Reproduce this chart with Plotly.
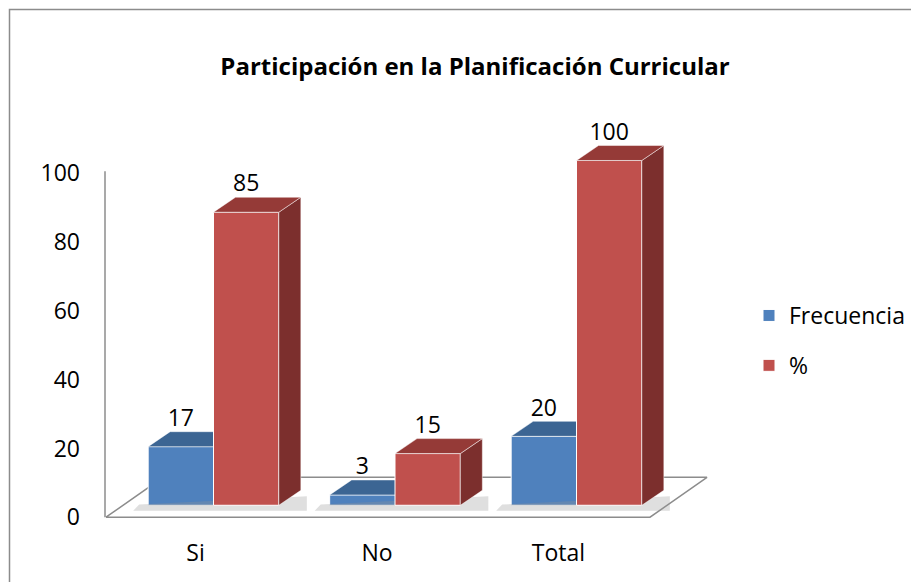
import plotly.graph_objects as go

# ---------------- data ----------------
categories = ["Si", "No", "Total"]
frecuencia = [17, 3, 20]
porcentaje = [85, 15, 100]
y_ticks = [0, 20, 40, 60, 80, 100]
title_text = "Participación en la Planificación Curricular"
series_names = ["Frecuencia", "%"]

# ---------------- styling / geometry ----------------
OFF = 8                         # default page body margin
W, H = 919 - OFF, 584 - OFF
FONT = "'Open Sans', Lato, sans-serif"
BLUE, BLUE_TOP = "#4F81BD", "#3C6593"
RED, RED_TOP, RED_SIDE = "#C0504D", "#953A37", "#7C2F2D"
GREY = "#8C8C8C"

def px(p):
    return (p - OFF) / W

def py(p):
    return 1 - (p - OFF) / H

cat_px = 181.5                 # pixels per category
cat0_px = 213.5                # pixel centre of first category

def xdat(p):
    return (p - cat0_px) / cat_px

DY = 2                         # small vertical nudge of the plot area
x_dom = [px(90), px(730)]
x_rng = [xdat(90), xdat(730)]
y_dom = [py(530 + DY), py(110 + DY)]
tick_scale = 3.45              # px per unit, tick axis (0 at 517)
bar_scale = 3.46               # px per unit, bar axis (0 at 505)
y_rng = [-(530 - 517) / tick_scale, -(530 - 517) / tick_scale + 420 / tick_scale]
y2_rng = [-(530 - 505) / bar_scale, -(530 - 505) / bar_scale + 420 / bar_scale]

bargap = 0.28
bw = (1 - bargap) / 2          # width of one bar in category units
ddx = 22 / cat_px              # depth offset (x, category units)
ddy = 15 / bar_scale           # depth offset (y, value units)

xs = list(range(len(categories)))

fig = go.Figure()

# floor (on tick axis)
fl_x0, fl_x1 = xdat(106), xdat(650)
fdx, fdy = 57 / cat_px, 40 / tick_scale
fig.add_trace(go.Scatter(
    x=[fl_x0, fl_x1, fl_x1 + fdx, fl_x0 + fdx, fl_x0],
    y=[0, 0, fdy, fdy, 0],
    mode="lines", fill="toself", fillcolor="white",
    line=dict(color=GREY, width=1.5), showlegend=False, hoverinfo="skip",
    xaxis="x", yaxis="y",
))

def top_faces(vals, offset):
    tx, ty = [], []
    for i, v in zip(xs, vals):
        x0 = i + offset
        x1 = x0 + bw
        tx += [x0, x1, x1 + ddx, x0 + ddx, x0, None]
        ty += [v, v, v + ddy, v + ddy, v, None]
    return tx, ty

def side_faces(vals, offset):
    tx, ty = [], []
    for i, v in zip(xs, vals):
        x1 = i + offset + bw
        tx += [x1, x1 + ddx, x1 + ddx, x1, x1, None]
        ty += [0, ddy, v + ddy, v, 0, None]
    return tx, ty

def shadows():
    sx, sy = [], []
    s = 6 / cat_px
    for i in xs:
        x0 = i - bw - 2.5 * s
        x1 = i + bw + ddx + s
        sx += [x0, x1, x1, x0 + s, x0, None]
        sy += [-1.6, -1.6, ddy * 0.6, 0.2, -1.6, None]
    return sx, sy

# soft shadow under the bar groups
shx, shy = shadows()
fig.add_trace(go.Scatter(
    x=shx, y=shy, mode="lines", fill="toself", fillcolor="rgba(150,150,150,0.3)",
    line=dict(width=0), showlegend=False, hoverinfo="skip",
    xaxis="x", yaxis="y2",
))

# blue series (y2)
fig.add_trace(go.Bar(
    x=xs, y=frecuencia, name=series_names[0], marker=dict(color=BLUE, line=dict(color="white", width=1)),
    offsetgroup="a", xaxis="x", yaxis="y2", legendgroup="a", hoverinfo="skip",
))
tx, ty = top_faces(frecuencia, -bw)
fig.add_trace(go.Scatter(
    x=tx, y=ty, mode="lines", fill="toself", fillcolor=BLUE_TOP,
    line=dict(color="rgba(255,255,255,0.6)", width=0.8), showlegend=False,
    hoverinfo="skip", xaxis="x", yaxis="y2",
))

# red series (y3, drawn above)
fig.add_trace(go.Bar(
    x=[i + bw / 2 for i in xs], y=porcentaje, width=bw, name=series_names[1],
    marker=dict(color=RED, line=dict(color="white", width=1)),
    xaxis="x", yaxis="y3", legendgroup="b", hoverinfo="skip",
))
sx, sy = side_faces(porcentaje, 0)
fig.add_trace(go.Scatter(
    x=sx, y=sy, mode="lines", fill="toself", fillcolor=RED_SIDE,
    line=dict(color="rgba(255,255,255,0.6)", width=0.8), showlegend=False,
    hoverinfo="skip", xaxis="x", yaxis="y3",
))
tx, ty = top_faces(porcentaje, 0)
fig.add_trace(go.Scatter(
    x=tx, y=ty, mode="lines", fill="toself", fillcolor=RED_TOP,
    line=dict(color="rgba(255,255,255,0.6)", width=0.8), showlegend=False,
    hoverinfo="skip", xaxis="x", yaxis="y3",
))

# value labels
fig.add_trace(go.Scatter(
    x=[i - bw / 2 for i in xs] + [i + bw / 2 for i in xs],
    y=[v + ddy for v in frecuencia] + [v + ddy for v in porcentaje],
    text=[str(v) for v in frecuencia] + [str(v) for v in porcentaje],
    mode="text", textposition="top center",
    textfont=dict(family=FONT, size=23, color="black"),
    showlegend=False, hoverinfo="skip", xaxis="x", yaxis="y3", cliponaxis=False,
))

fig.update_layout(
    width=W, height=H,
    margin=dict(l=0, r=0, t=0, b=0),
    paper_bgcolor="white", plot_bgcolor="rgba(0,0,0,0)",
    font=dict(family=FONT, size=23, color="black"),
    barmode="group", bargap=bargap, bargroupgap=0,
    title=dict(text="<b>" + title_text + "</b>", x=px(475), xanchor="center",
               y=py(67), yanchor="middle", font=dict(family=FONT, size=24, color="black")),
    xaxis=dict(domain=x_dom, range=x_rng, tickvals=xs, ticktext=categories,
               showgrid=False, zeroline=False, showline=False, ticks="",
               anchor="free", position=py(517 + DY), ticklabelstandoff=20,
               ticklabelshift=-18, tickfont=dict(size=23), fixedrange=True),
    yaxis=dict(domain=y_dom, range=y_rng, tickvals=y_ticks, showgrid=False,
               zeroline=False, showline=False, ticks="", anchor="free",
               position=px(105), ticklabelstandoff=25, tickfont=dict(size=23)),
    yaxis2=dict(range=y2_rng, overlaying="y", visible=False, anchor="x"),
    yaxis3=dict(range=y2_rng, overlaying="y", visible=False, anchor="x"),
    legend=dict(x=px(749), y=py(295), xanchor="left", yanchor="top",
                font=dict(size=23), traceorder="grouped", tracegroupgap=17,
                bgcolor="rgba(0,0,0,0)"),
    shapes=[
        dict(type="line", xref="paper", yref="y", x0=px(105), x1=px(105),
             y0=0, y1=100.6, line=dict(color=GREY, width=1.5)),
        dict(type="path", xref="paper", yref="paper",
             path=f"M {px(9.5)} 0 L {px(9.5)} {py(9.5)} L 1 {py(9.5)}",
             line=dict(color=GREY, width=1.5)),
    ],
    showlegend=True,
)

fig.write_html("out.html")
